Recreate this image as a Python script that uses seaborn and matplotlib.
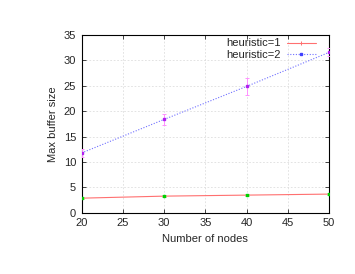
import numpy as np
import pandas as pd
import matplotlib
matplotlib.use('Agg')
import matplotlib.pyplot as plt
from matplotlib.lines import Line2D
import seaborn as sns

# values
nodes = [20, 30, 40, 50]
h1_size = [2.9, 3.3, 3.5, 3.7]
h1_err = [0.15, 0.15, 0.2, 0.2]
h2_size = [11.8, 18.4, 24.9, 31.6]
h2_err = [0.7, 1.1, 1.6, 0.8]
xticks = [20, 25, 30, 35, 40, 45, 50]
yticks = [0, 5, 10, 15, 20, 25, 30, 35]

df = pd.DataFrame({'nodes': nodes * 2,
                   'size': h1_size + h2_size,
                   'heuristic': ['heuristic=1'] * 4 + ['heuristic=2'] * 4})

sns.set_style('ticks')
plt.rcParams['font.family'] = ['Liberation Sans', 'DejaVu Sans']

fig = plt.figure(figsize=(3.55, 2.74), dpi=100)
ax = fig.add_axes([0.230, 0.223, 0.697, 0.649])

# error bars first, gnuplot colours 2 and 4
ax.errorbar(nodes, h1_size, yerr=h1_err, fmt='s', color='#00d000', ms=2,
            ecolor='#80e080', elinewidth=0.7, capsize=1.5, capthick=0.7, zorder=3)
ax.errorbar(nodes, h2_size, yerr=h2_err, fmt='s', color='#b020f0', ms=2,
            ecolor='#ff90ff', elinewidth=0.7, capsize=1.5, capthick=0.7, zorder=3)

sns.lineplot(data=df[df.heuristic == 'heuristic=1'], x='nodes', y='size', ax=ax,
             color='#ff7070', lw=0.8, legend=False, zorder=2)
sns.lineplot(data=df[df.heuristic == 'heuristic=2'], x='nodes', y='size', ax=ax,
             color='#7070ff', lw=0.8, ls=(0, (1, 1.5)), legend=False, zorder=2)

ax.set_xlim(20, 50)
ax.set_ylim(0, 35)
ax.set_xticks(xticks)
ax.set_yticks(yticks)
ax.grid(True, color='#d8d8d8', ls=(0, (2.5, 2.5)), lw=0.5)
ax.tick_params(direction='in', length=3, width=0.6, labelsize=8, pad=4,
               top=True, right=True)
for s in ax.spines.values():
    s.set_linewidth(0.8)
    s.set_color('black')

ax.set_xlabel('Number of nodes', fontsize=8)
ax.set_ylabel('Max buffer size', fontsize=8)

handles = [Line2D([], [], color='#ff7070', lw=0.8, marker='+', ms=3, mew=0.7),
           Line2D([], [], color='#7070ff', lw=0.8, ls=(0, (1, 1.5)),
                  marker='s', ms=2, mfc='#4040ff', mec='#4040ff')]
ax.legend(handles, ['heuristic=1', 'heuristic=2'], loc='upper right',
          bbox_to_anchor=(0.96, 1.0),
          frameon=False, markerfirst=False, fontsize=8, handlelength=2.6,
          borderaxespad=0.1, labelspacing=0.1, handletextpad=0.6,
          borderpad=0.2)

plt.savefig('out.png', dpi=100)
plt.close()
